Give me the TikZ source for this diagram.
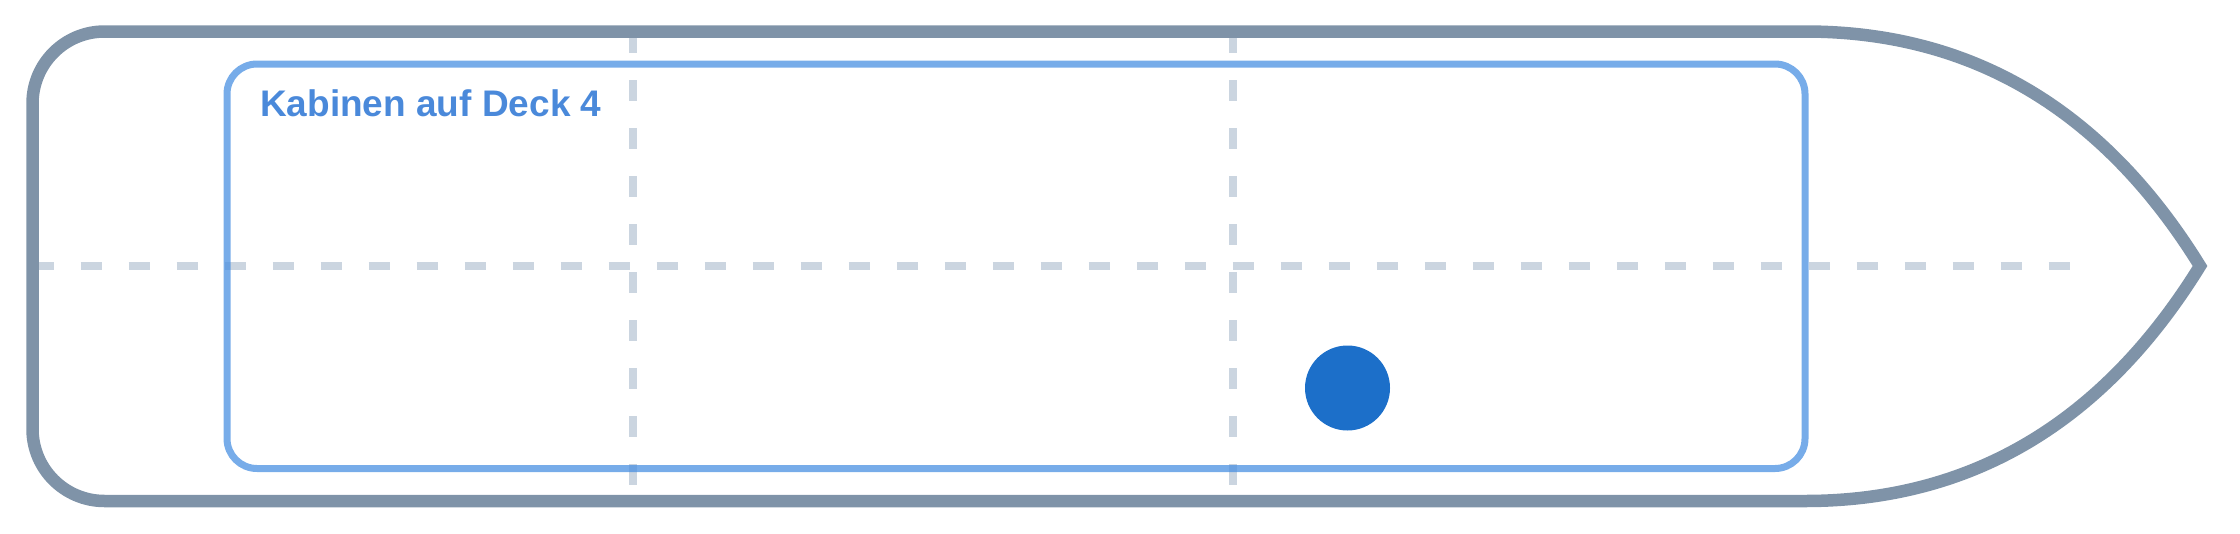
\documentclass[tikz,border=0pt]{standalone}
\usepackage{fontspec}
\setmainfont{Liberation Sans}
\usetikzlibrary{positioning}
\definecolor{hullgray}{HTML}{7F93A8}
\definecolor{cabinblue}{HTML}{4A90E2}
\definecolor{labelblue}{HTML}{4A89DA}
\definecolor{gridgray}{HTML}{CBD5E0}
\definecolor{markerblue}{HTML}{1C6FC9}
\tikzset{%
  x=1pt, y=-1pt, % one unit = one pixel of the plan, y pointing down
  hull/.style={draw=hullgray, line width=12.5pt, line join=miter},
  cabins/.style={draw=cabinblue, draw opacity=0.75, line width=7pt, rounded corners=30pt},
  gridline/.style={draw=gridgray, line width=8pt, dash pattern=on 21pt off 27pt},
  decklabel/.style={text=labelblue, font=\bfseries\fontsize{37}{44}\selectfont,
    inner sep=0pt, anchor=base west},
  marker/.style={circle, fill=markerblue, minimum size=85pt, inner sep=0pt}
}
\begin{document}
\begin{tikzpicture}
    \useasboundingbox (0,0) rectangle (2240,533);

    % grid lines
    \draw[gridline] (32.5,266) -- (2070,266);
    \draw[gridline] (633,32) -- (633,501);
    \draw[gridline] (1233,32) -- (1233,501);

    % cabin block
    \draw[cabins] (227,64) rectangle (1805,468.5);

    % hull: round stern, pointed bow
    \draw[hull] (900,501) -- (104.5,501)
      .. controls (64.7,501) and (32.5,468.8) .. (32.5,429)
      -- (32.5,103.5)
      .. controls (32.5,63.7) and (64.7,31.5) .. (104.5,31.5)
      -- (1805,31.5)
      .. controls (1971,31.5) and (2103,109) .. (2200,266)
      .. controls (2103,423) and (1971,501) .. (1805,501) -- cycle;

    \node[decklabel] (title) at (260,116) {Kabinen auf Deck 4};
    \node[marker] (pos) at (1347.5,388) {};
\end{tikzpicture}
\end{document}
